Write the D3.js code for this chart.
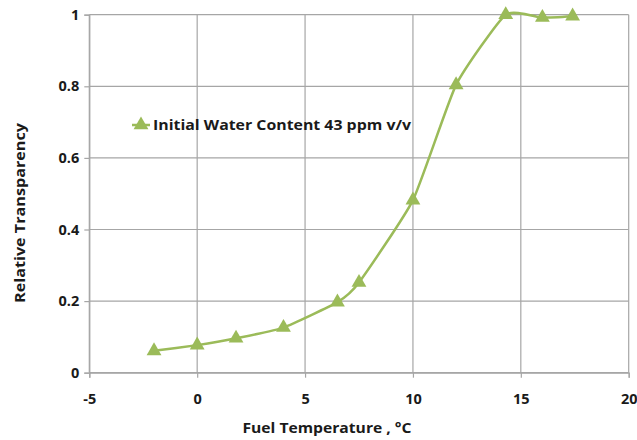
<!DOCTYPE html>
<html>
<head>
<meta charset="utf-8">
<script src="https://cdn.jsdelivr.net/npm/d3@7/dist/d3.min.js"></script>
<style>
  html, body { margin: 0; padding: 0; background: #fff; }
  svg text { font-family: "Open Sans", "Liberation Sans", sans-serif; font-weight: bold; fill: #1a1a1a; }
</style>
</head>
<body>
<svg id="chart" width="637" height="440"></svg>
<script>
// Fuel temperature (°C) and the measured relative transparency
const temperature = [-2, 0, 1.8, 4, 6.5, 7.5, 10, 12, 14.3, 16, 17.4];
const transparency = [0.061, 0.077, 0.096, 0.126, 0.197, 0.252, 0.482, 0.804, 1.0, 0.992, 0.996];
const xTicks = [-5, 0, 5, 10, 15, 20];
const yTicks = [0, 0.2, 0.4, 0.6, 0.8, 1];
const seriesName = "Initial Water Content 43 ppm v/v";
const xTitle = "Fuel Temperature , °C";
const yTitle = "Relative Transparency";

const green = "#9bbb59";
const gridColor = "#a6a6a6";

const svg = d3.select("#chart");
const x = d3.scaleLinear().domain([-5, 20]).range([89.3, 628.7]);
const y = d3.scaleLinear().domain([0, 1]).range([372.7, 14.7]);

// Gridlines
svg.append("g").selectAll("line").data(xTicks).join("line")
  .attr("x1", d => x(d)).attr("x2", d => x(d))
  .attr("y1", y(0)).attr("y2", y(1))
  .attr("stroke", gridColor).attr("stroke-width", 1.2);
svg.append("g").selectAll("line").data(yTicks).join("line")
  .attr("x1", x(-5)).attr("x2", x(20))
  .attr("y1", d => y(d)).attr("y2", d => y(d))
  .attr("stroke", gridColor).attr("stroke-width", 1.2);

// Axes (plain hyphen for negative numbers)
const xAxis = svg.append("g").attr("transform", `translate(0,${y(0)})`)
  .call(d3.axisBottom(x).tickValues(xTicks).tickSize(5).tickPadding(16).tickFormat(d => String(d)));
const yAxis = svg.append("g").attr("transform", `translate(${x(-5)},0)`)
  .call(d3.axisLeft(y).tickValues(yTicks).tickSize(5).tickPadding(5).tickFormat(d => d === 0 || d === 1 ? String(d) : d3.format(".1f")(d)));
[xAxis, yAxis].forEach(g => {
  g.select(".domain").attr("stroke", gridColor).attr("stroke-width", 1.2);
  g.selectAll(".tick line").attr("stroke", gridColor).attr("stroke-width", 1.2);
  g.selectAll(".tick text").attr("font-size", 14.5).attr("fill", "#1a1a1a")
    .attr("font-family", "\"Open Sans\", sans-serif");
});

// Axis titles
svg.append("text").attr("x", 327).attr("y", 433).attr("text-anchor", "middle")
  .attr("font-size", 15).attr("textLength", 169).attr("lengthAdjust", "spacingAndGlyphs").text(xTitle);
svg.append("text").attr("transform", "translate(25,213) rotate(-90)")
  .attr("text-anchor", "middle").attr("font-size", 14.5)
  .attr("textLength", 180).attr("lengthAdjust", "spacingAndGlyphs").text(yTitle);

// Series line and triangle markers
const pts = temperature.map((t, i) => [t, transparency[i]]);
const line = d3.line().x(d => x(d[0])).y(d => y(d[1])).curve(d3.curveCardinal.tension(0.5));
svg.append("path").datum(pts).attr("d", line)
  .attr("fill", "none").attr("stroke", green).attr("stroke-width", 2.5);
const tri = d3.symbol().type(d3.symbolTriangle).size(95);
svg.append("g").selectAll("path").data(pts).join("path")
  .attr("transform", d => `translate(${x(d[0])},${y(d[1])})`)
  .attr("d", tri).attr("fill", green);

// Legend
const lg = svg.append("g").attr("transform", "translate(141,125)");
lg.append("line").attr("x1", -9).attr("x2", 9).attr("stroke", green).attr("stroke-width", 2.5);
lg.append("path").attr("d", tri).attr("fill", green);
lg.append("text").attr("x", 12).attr("y", 5).attr("font-size", 14.5)
  .attr("textLength", 258).attr("lengthAdjust", "spacingAndGlyphs").text(seriesName);
</script>
</body>
</html>
